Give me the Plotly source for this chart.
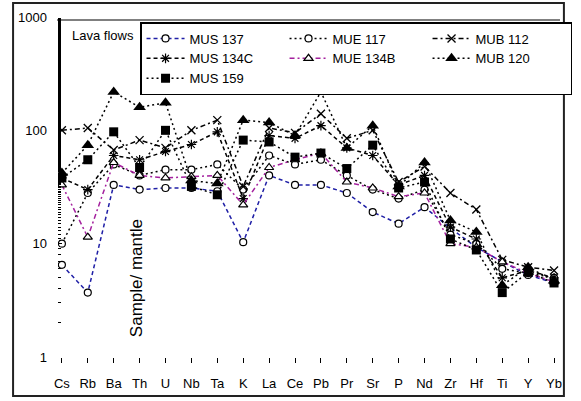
import plotly.graph_objects as go

# Primitive-mantle-normalised trace element patterns, lava flows
elements = ["Cs", "Rb", "Ba", "Th", "U", "Nb", "Ta", "K", "La", "Ce",
            "Pb", "Pr", "Sr", "P", "Nd", "Zr", "Hf", "Ti", "Y", "Yb"]

mus_137 = [6.5, 3.7, 33, 30, 31, 31, 29, 10.3, 40, 33, 33, 28, 19, 15, 21, 13.7, 9.3, 6.9, 5.3, 4.5]
mue_117 = [10, 28, 50, 40, 45, 45, 50, 30, 60, 50, 55, 40, 30, 25, 30, 12, 10, 6, 5.5, 5]
mub_112 = [100, 105, 67, 82, 70, 100, 123, 32, 105, 95, 140, 85, 100, 35, 48, 28, 20, 7.2, 6.2, 5.8]
mus_134c = [38, 30, 60, 55, 65, 75, 97, 25, 90, 85, 110, 70, 60, 33, 40, 14, 11, 5, 5.8, 5]
mue_134b = [33, 11.4, 52, 40, 38, 39, 40, 22, 47, 55, 63, 35, 31, 26, 28, 10, 9.3, 6.9, 5.5, 4.6]
mub_120 = [42, 74, 218, 160, 175, 36, 34, 123, 117, 90, 218, 70, 110, 32, 52, 16, 12.7, 4.3, 6.2, 4.7]
mus_159 = [38, 55, 97, 47, 100, 32, 27, 82, 79, 58, 63, 46, 74, 31, 35, 11, 8.8, 3.7, 5.6, 4.5]

FONT = "Arial, Liberation Sans, sans-serif"
BLUE = "#1f1fa6"
MAGENTA = "#a4209e"

series = [
    ("MUS 137", mus_137, BLUE, "4px,3px", dict(symbol="circle", size=7, color="white", line=dict(color="black", width=1.2))),
    ("MUE 117", mue_117, "black", "2px,3px", dict(symbol="circle", size=7, color="white", line=dict(color="black", width=1.2))),
    ("MUB 112", mub_112, "black", "5px,3px,2px,3px", dict(symbol="x-thin-open", size=8, color="black", line=dict(color="black", width=1.3))),
    ("MUS 134C", mus_134c, "black", "4px,3px", dict(symbol="asterisk-open", size=8, color="black", line=dict(color="black", width=1.2))),
    ("MUE 134B", mue_134b, MAGENTA, "5px,3px,2px,3px", dict(symbol="triangle-up", size=8, color="white", line=dict(color="black", width=1.2))),
    ("MUB 120", mub_120, "black", "2px,3px", dict(symbol="triangle-up", size=11, color="black", line=dict(color="black", width=0))),
    ("MUS 159", mus_159, "black", "2px,3px", dict(symbol="square", size=9, color="black", line=dict(color="black", width=0))),
]

fig = go.Figure()
for name, vals, col, dash, marker in series:
    fig.add_trace(go.Scatter(
        x=elements, y=vals, name=name, mode="lines+markers",
        line=dict(color=col, width=1.5, dash=dash),
        marker=marker,
    ))

W, H = 581, 401
L, R, T, B = 58, 9, 17, 44
pw, ph = W - L - R, H - T - B


def px_x(x):
    return (x - L) / pw


def px_y(y):
    return (H - B - y) / ph


fig.update_layout(
    width=W, height=H,
    margin=dict(l=L, r=R, t=T, b=B),
    paper_bgcolor="white", plot_bgcolor="white",
    font=dict(family=FONT, size=13, color="black"),
    showlegend=True,
    legend=dict(
        orientation="h",
        x=px_x(142), y=px_y(22), xanchor="left", yanchor="top",
        entrywidth=90, entrywidthmode="pixels",
        bgcolor="white", bordercolor="black", borderwidth=1.5,
        font=dict(family=FONT, size=13, color="black"),
        itemwidth=38,
    ),
    xaxis=dict(
        type="category", range=[-0.15, 19.23],
        showgrid=False, zeroline=False, showline=False,
        ticks="outside", ticklen=5, tickcolor="black", tickwidth=1,
        ticklabelstandoff=9,
        tickfont=dict(family=FONT, size=13, color="black"),
    ),
    yaxis=dict(
        type="log", range=[0, 3],
        showgrid=False, zeroline=False, showline=False,
        tickvals=[1, 10, 100, 1000], ticktext=["1", "10", "100", "1000"],
        ticks="inside", ticklen=4, tickcolor="black", tickwidth=1,
        ticklabelstandoff=10,
        tickfont=dict(family=FONT, size=13, color="black"),
        minor=dict(ticks="inside", ticklen=3, tickcolor="black", tickwidth=1, showgrid=False),
    ),
    annotations=[
        dict(text="Lava flows", xref="paper", yref="paper",
             x=px_x(70), y=px_y(35), xanchor="left", yanchor="middle",
             showarrow=False, font=dict(family=FONT, size=13, color="black")),
        dict(text="Sample/ mantle", xref="paper", yref="paper",
             x=px_x(138), y=px_y(278), xanchor="center", yanchor="middle",
             textangle=-90, showarrow=False,
             font=dict(family=FONT, size=17, color="black")),
    ],
    shapes=[
        # top border of the plotting region
        dict(type="line", xref="paper", yref="paper",
             x0=px_x(57), x1=px_x(572), y0=px_y(20), y1=px_y(20),
             line=dict(color="black", width=1), layer="below"),
        # outer frame
        dict(type="rect", xref="paper", yref="paper",
             x0=px_x(12), x1=px_x(576), y0=px_y(396), y1=px_y(3),
             line=dict(color="#222222", width=2), fillcolor="rgba(0,0,0,0)"),
    ],
)

fig.write_html("out.html")
